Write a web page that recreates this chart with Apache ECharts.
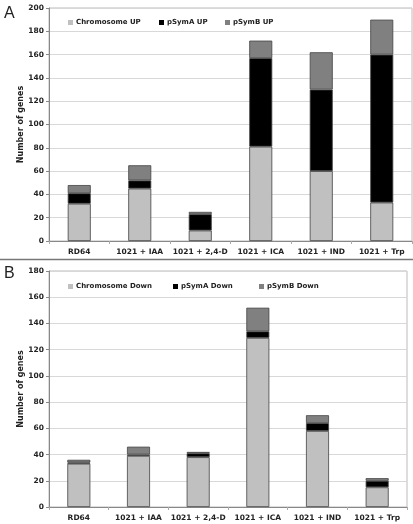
<!DOCTYPE html>
<html><head><meta charset="utf-8">
<script src="https://cdn.jsdelivr.net/npm/echarts@6/dist/echarts.min.js"></script>
<style>html,body{margin:0;padding:0;background:#fff}#c{width:413px;height:524px}</style>
</head><body><div id="c"></div>
<script>
const categories = ['RD64', '1021 + IAA', '1021 + 2,4-D', '1021 + ICA', '1021 + IND', '1021 + Trp'];
// Panel A (up-regulated)
const chromUp = [32, 45, 9, 81, 60, 33];
const pSymAUp = [9, 7, 14, 76, 70, 127];
const pSymBUp = [7, 13, 2, 15, 32, 30];
// Panel B (down-regulated)
const chromDown = [33, 39, 38, 129, 58, 15];
const pSymADown = [1, 1, 3, 5, 6, 5];
const pSymBDown = [2, 6, 1, 18, 6, 2];
const yTicksA = {min: 0, max: 200, interval: 20};
const yTicksB = {min: 0, max: 180, interval: 20};

const FONT = 'DejaVu Sans';
const cLight = '#c0c0c0', cBlack = '#000000', cGray = '#808080';
const chart = echarts.init(document.getElementById('c'), null, {renderer: 'canvas'});

function xAxis(gi) {
  return {
    type: 'category', gridIndex: gi, data: categories,
    axisLine: {lineStyle: {color: '#888', width: 1}},
    axisTick: {show: true, length: 3, lineStyle: {color: '#aaa'}},
    axisLabel: {fontFamily: FONT, fontWeight: 'bold', fontSize: 7.5, color: '#222', margin: 7, interval: 0}
  };
}
function yAxis(gi, t) {
  return {
    type: 'value', gridIndex: gi, min: t.min, max: t.max, interval: t.interval,
    name: 'Number of genes', nameLocation: 'middle', nameGap: 24, nameMoveOverlap: false,
    nameTextStyle: {fontFamily: FONT, fontWeight: 'bold', fontSize: 8, color: '#222'},
    axisLine: {show: true, lineStyle: {color: '#888'}},
    axisTick: {show: true, length: 3, lineStyle: {color: '#888'}},
    axisLabel: {fontFamily: FONT, fontWeight: 'bold', fontSize: 7.5, color: '#222', margin: 5},
    splitLine: {show: true, lineStyle: {color: '#d8d8d8'}}
  };
}
function bar(name, data, color, gi) {
  return {
    name, type: 'bar', stack: 's' + gi, xAxisIndex: gi, yAxisIndex: gi, data,
    barWidth: 23,
    itemStyle: {color, borderColor: '#444', borderWidth: 0.8},
    emphasis: {disabled: true}
  };
}
function legend(name, left, top) {
  return {
    data: [name], left, top, padding: 0, itemWidth: 5, itemHeight: 5, itemGap: 0,
    icon: 'rect', selectedMode: false,
    itemStyle: {borderWidth: 0},
    textStyle: {fontFamily: FONT, fontWeight: 'bold', fontSize: 7, color: '#222', padding: [0, 0, 0, -2]}
  };
}

chart.setOption({
  animation: false,
  grid: [
    {left: 49, top: 8, right: 1, height: 233, show: true, borderColor: '#bbb', borderWidth: 1},
    {left: 49, top: 271, right: 6, height: 236, show: true, borderColor: '#bbb', borderWidth: 1}
  ],
  xAxis: [xAxis(0), xAxis(1)],
  yAxis: [yAxis(0, yTicksA), yAxis(1, yTicksB)],
  legend: [
    legend('Chromosome UP', 68, 19),
    legend('pSymA UP', 159, 19),
    legend('pSymB UP', 225, 19),
    legend('Chromosome Down', 68, 283),
    legend('pSymA Down', 173, 283),
    legend('pSymB Down', 259, 283)
  ],
  series: [
    bar('Chromosome UP', chromUp, cLight, 0),
    bar('pSymA UP', pSymAUp, cBlack, 0),
    bar('pSymB UP', pSymBUp, cGray, 0),
    bar('Chromosome Down', chromDown, cLight, 1),
    bar('pSymA Down', pSymADown, cBlack, 1),
    bar('pSymB Down', pSymBDown, cGray, 1)
  ],
  graphic: [
    {type: 'text', left: 4, top: 6, style: {text: 'A', font: '16px "Liberation Sans"', fill: '#222'}},
    {type: 'text', left: 4, top: 266, style: {text: 'B', font: '16px "Liberation Sans"', fill: '#222'}},
    {type: 'line', shape: {x1: 0, y1: 259.5, x2: 413, y2: 259.5}, style: {stroke: '#777', lineWidth: 1.5}}
  ]
});
</script></body></html>
